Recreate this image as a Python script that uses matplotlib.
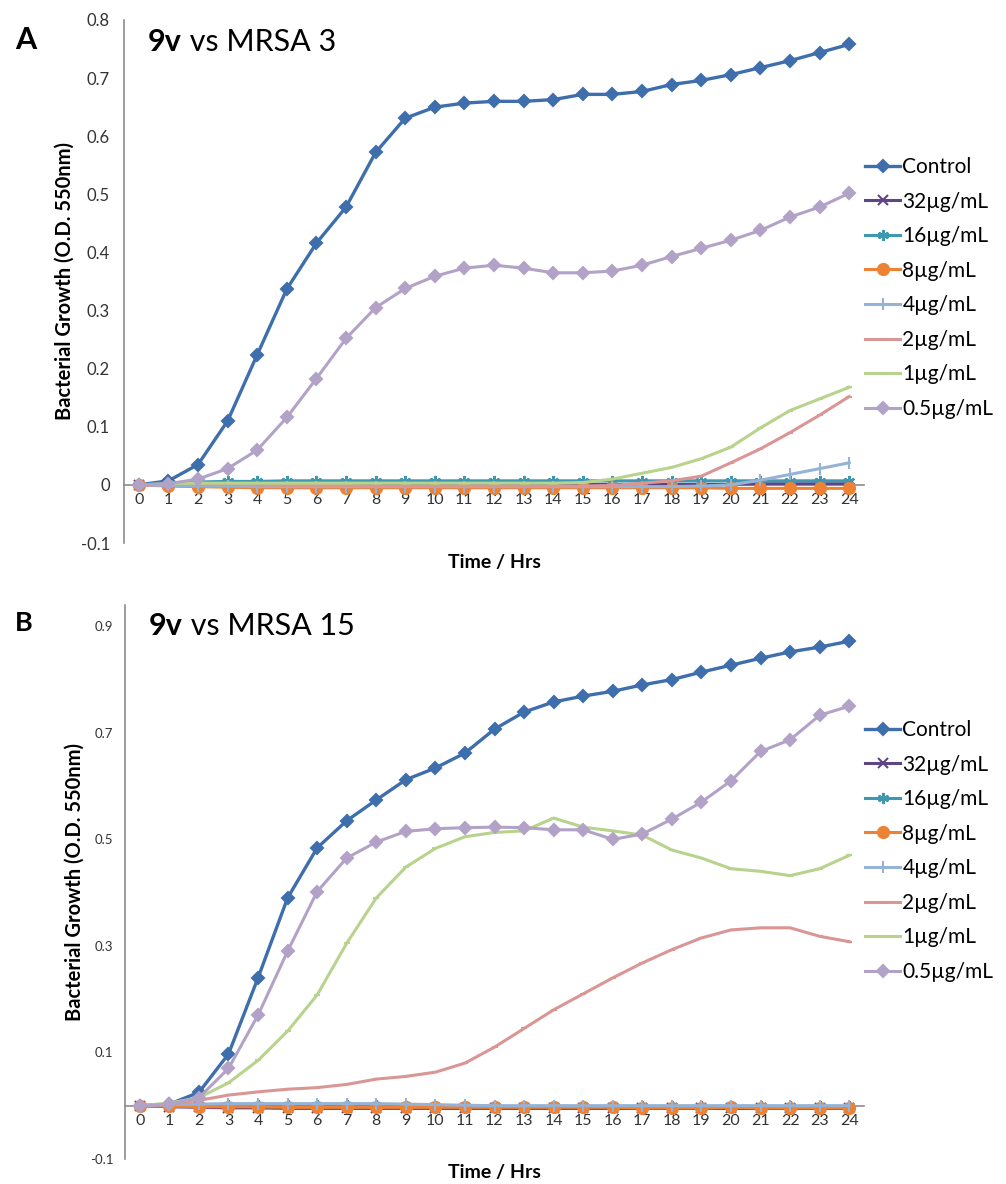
import matplotlib.pyplot as plt
import numpy as np

plt.rcParams['font.family'] = ['Lato', 'DejaVu Sans']

hours = list(range(25))
labels = ['Control', '32µg/mL', '16µg/mL', '8µg/mL', '4µg/mL', '2µg/mL', '1µg/mL', '0.5µg/mL']

# panel A: 9v vs MRSA 3
a_control = [0, 0.007, 0.035, 0.11, 0.224, 0.337, 0.416, 0.478, 0.572, 0.631, 0.650, 0.657, 0.660,
             0.660, 0.663, 0.672, 0.672, 0.677, 0.689, 0.696, 0.706, 0.718, 0.730, 0.744, 0.758]
a_32 = [0, 0.001, 0.001, 0.001, 0.001, 0.001, 0.001, 0.001, 0.001, 0.001, 0.001, 0.001, 0.001,
        0.001, 0.001, 0.001, 0.001, 0.001, 0.001, 0.001, 0.001, 0.002, 0.002, 0.002, 0.002]
a_16 = [0, 0.003, 0.005, 0.006, 0.006, 0.007, 0.007, 0.007, 0.007, 0.007, 0.007, 0.007, 0.007,
        0.007, 0.007, 0.007, 0.007, 0.007, 0.007, 0.007, 0.007, 0.007, 0.007, 0.007, 0.007]
a_8 = [0, -0.002, -0.003, -0.004, -0.005, -0.005, -0.005, -0.005, -0.005, -0.005, -0.005, -0.005, -0.005,
       -0.005, -0.005, -0.005, -0.005, -0.005, -0.005, -0.005, -0.006, -0.006, -0.006, -0.006, -0.006]
a_4 = [0, -0.001, -0.002, -0.002, -0.003, -0.003, -0.003, -0.003, -0.003, -0.003, -0.003, -0.003, -0.003,
       -0.003, -0.003, -0.003, -0.003, -0.003, -0.003, -0.002, 0.0, 0.008, 0.018, 0.028, 0.038]
a_2 = [0, 0.001, 0.001, 0.001, 0.0, -0.001, -0.001, -0.001, -0.002, -0.002, -0.002, -0.002, -0.002,
       -0.002, -0.002, -0.002, -0.001, 0.003, 0.007, 0.015, 0.038, 0.062, 0.090, 0.120, 0.152]
a_1 = [0, 0.002, 0.003, 0.003, 0.003, 0.003, 0.003, 0.003, 0.003, 0.003, 0.003, 0.003, 0.003,
       0.003, 0.003, 0.004, 0.010, 0.020, 0.030, 0.045, 0.065, 0.098, 0.128, 0.148, 0.168]
a_05 = [0, 0.002, 0.010, 0.028, 0.060, 0.116, 0.183, 0.252, 0.305, 0.338, 0.359, 0.373, 0.378,
        0.373, 0.365, 0.365, 0.368, 0.378, 0.393, 0.407, 0.421, 0.438, 0.461, 0.478, 0.502]

# panel B: 9v vs MRSA 15
b_control = [0, 0.003, 0.025, 0.097, 0.240, 0.390, 0.484, 0.535, 0.574, 0.612, 0.634, 0.662, 0.707,
             0.739, 0.758, 0.769, 0.778, 0.790, 0.800, 0.814, 0.827, 0.840, 0.852, 0.861, 0.872]
b_32 = [0, -0.002, -0.003, -0.004, -0.004, -0.005, -0.005, -0.005, -0.005, -0.005, -0.005, -0.005, -0.005,
        -0.005, -0.005, -0.005, -0.005, -0.005, -0.005, -0.005, -0.005, -0.005, -0.005, -0.005, -0.005]
b_16 = [0, 0.001, 0.001, 0.001, 0.001, 0.001, 0.001, 0.001, 0.001, 0.0, 0.0, -0.001, -0.001,
        -0.001, -0.001, -0.001, -0.001, -0.001, -0.001, -0.001, -0.001, -0.001, -0.001, -0.001, -0.001]
b_8 = [0, -0.001, -0.002, -0.002, -0.002, -0.003, -0.003, -0.003, -0.003, -0.003, -0.003, -0.003, -0.003,
       -0.003, -0.003, -0.003, -0.003, -0.004, -0.004, -0.004, -0.003, -0.004, -0.004, -0.004, -0.004]
b_4 = [0, 0.002, 0.003, 0.004, 0.004, 0.004, 0.004, 0.004, 0.004, 0.003, 0.002, 0.001, 0.0,
       0.0, 0.0, 0.0, 0.0, 0.0, 0.0, 0.0, 0.0, 0.0, 0.0, 0.0, 0.0]
b_2 = [0, 0.003, 0.010, 0.020, 0.026, 0.031, 0.034, 0.040, 0.050, 0.055, 0.063, 0.080, 0.110,
       0.145, 0.180, 0.210, 0.240, 0.268, 0.293, 0.315, 0.330, 0.334, 0.334, 0.318, 0.308]
b_1 = [0, 0.005, 0.015, 0.043, 0.085, 0.140, 0.208, 0.305, 0.390, 0.448, 0.483, 0.505, 0.513,
       0.516, 0.540, 0.523, 0.516, 0.508, 0.480, 0.465, 0.445, 0.440, 0.432, 0.445, 0.470]
b_05 = [0, 0.003, 0.015, 0.070, 0.170, 0.290, 0.402, 0.465, 0.495, 0.515, 0.520, 0.522, 0.523,
        0.522, 0.518, 0.518, 0.500, 0.510, 0.538, 0.570, 0.610, 0.665, 0.687, 0.733, 0.750]

colors = ['#3E6EAB', '#5E4585', '#3D98B0', '#EE8234', '#95B3D7', '#D99694', '#B7D38C', '#B3A2C7']
markers = ['D', 'x', (6, 2, 0), 'o', '|', '_', '_', 'D']
msizes = [6, 7, 8, 8, 8, 4, 4, 6]
lwidths = [2.4, 2.2, 2.2, 2.2, 2.2, 2.2, 2.2, 2.2]

W, H = 1006, 1184
fig = plt.figure(figsize=(W / 100, H / 100), dpi=100)


def panel(rect, series, ylim, yticks, letter, title_num, leg_center, ytick_size, ypad,
          letter_size, title_y):
    ax = fig.add_axes(rect)
    for i, s in enumerate(series):
        ax.plot(hours, s, color=colors[i], marker=markers[i], markersize=msizes[i],
                linewidth=lwidths[i], markeredgewidth=1.5, label=labels[i], zorder=2 + i)
    ax.set_xlim(-0.5, 24.5)
    ax.set_ylim(*ylim)
    ax.set_xticks(hours)
    ax.set_yticks(yticks)
    ax.set_yticklabels(['%g' % v for v in yticks])
    ax.spines['top'].set_visible(False)
    ax.spines['right'].set_visible(False)
    ax.spines['left'].set_color('#8c8c8c')
    ax.spines['bottom'].set_color('#8c8c8c')
    ax.spines['bottom'].set_position(('data', 0))
    ax.spines['left'].set_linewidth(1.2)
    ax.spines['bottom'].set_linewidth(1.2)
    ax.tick_params(axis='both', length=0, colors='#333333')
    ax.tick_params(axis='x', pad=6, labelsize=11.5)
    ax.tick_params(axis='y', pad=ypad, labelsize=ytick_size)
    ax.set_xlabel('Time / Hrs', fontweight='bold', fontsize=14)
    ax.set_ylabel('Bacterial Growth (O.D. 550nm)', fontweight='bold', fontsize=14.5)
    # titles
    t1 = ax.text(0.032, title_y, '9v', transform=ax.transAxes, fontsize=22, fontweight='bold',
                 va='top', ha='left')
    ax.annotate(' vs MRSA ' + title_num, xy=(1, 0), xycoords=t1, fontsize=22,
                va='bottom', ha='left')
    fig.text(15 / W, rect[1] + rect[3] - 0.005, letter, fontsize=letter_size, fontweight='bold',
             va='top', ha='left')
    ax.legend(loc='center left', bbox_to_anchor=leg_center, bbox_transform=fig.transFigure,
              frameon=False, fontsize=15, labelspacing=0.7, handlelength=1.65,
              handletextpad=0.12, borderpad=0)
    return ax


axA = panel([124 / W, 1 - 543 / H, 740 / W, 523 / H],
            [a_control, a_32, a_16, a_8, a_4, a_2, a_1, a_05],
            (-0.1, 0.8), [-0.1, 0, 0.1, 0.2, 0.3, 0.4, 0.5, 0.6, 0.7, 0.8], 'A', '3',
            (855 / W, 1 - 288 / H), 12, 10, 22, 0.985)
axA.xaxis.set_label_coords(0.5, -0.021)
axA.yaxis.set_label_coords(-0.066, 0.5)

axB = panel([125 / W, 1 - 1159 / H, 739 / W, 554 / H],
            [b_control, b_32, b_16, b_8, b_4, b_2, b_1, b_05],
            (-0.1, 0.94), [-0.1, 0.1, 0.3, 0.5, 0.7, 0.9], 'B', '15',
            (855 / W, 1 - 851 / H), 9.5, 8.5, 19.5, 0.988)
axB.xaxis.set_label_coords(0.5, -0.009)
axB.yaxis.set_label_coords(-0.054, 0.5)

fig.savefig('out.png', dpi=100)
